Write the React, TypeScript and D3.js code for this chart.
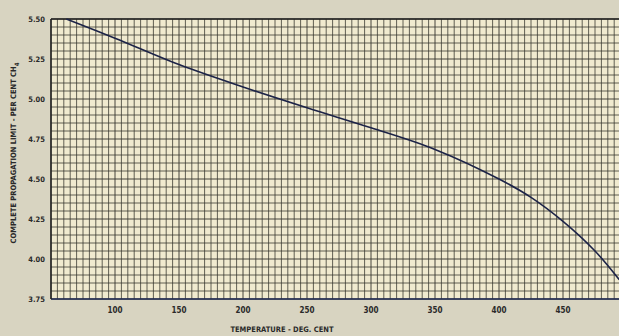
import React, { useEffect, useRef } from 'react';
import * as d3 from 'd3';

// curve
const temps = [62, 100, 150, 200, 250, 300, 350, 400, 425, 450, 475, 494];
const limits = [5.5, 5.38, 5.215, 5.075, 4.945, 4.82, 4.685, 4.5, 4.385, 4.235, 4.05, 3.87];

const xTicks = [100, 150, 200, 250, 300, 350, 400, 450];
const yTicks = [3.75, 4.0, 4.25, 4.5, 4.75, 5.0, 5.25, 5.5];

const W = 619;
const H = 336;

const App = () => {
  const ref = useRef<SVGSVGElement | null>(null);

  useEffect(() => {
    const svg = d3.select(ref.current);
    svg.selectAll('*').remove();

    const left = 51, top = 19, bottom = 299;
    const x = d3.scaleLinear().domain([50, 500]).range([left, left + 450 * 1.28]);
    const y = d3.scaleLinear().domain([3.75, 5.5]).range([bottom, top]);
    const font = '"DejaVu Sans Condensed", "Liberation Sans", sans-serif';

    svg.append('rect').attr('width', W).attr('height', H).attr('fill', '#d8d4c1');
    svg.append('rect')
      .attr('x', left).attr('y', top)
      .attr('width', W - left).attr('height', bottom - top)
      .attr('fill', '#f0eacf');

    // graph paper
    const grid = svg.append('g').attr('stroke', '#34332c').attr('stroke-width', 0.95);
    d3.range(50, 501, 5).forEach(t => {
      grid.append('line')
        .attr('x1', x(t)).attr('x2', x(t))
        .attr('y1', top).attr('y2', bottom)
        .attr('stroke-opacity', t % 50 === 0 ? 0.95 : 0.8);
    });
    d3.range(0, 36).forEach(i => {
      const v = 3.75 + i * 0.05;
      grid.append('line')
        .attr('x1', left).attr('x2', W)
        .attr('y1', y(v)).attr('y2', y(v))
        .attr('stroke-opacity', i % 5 === 0 ? 0.95 : 0.8);
    });

    // frame
    svg.append('line').attr('x1', left).attr('x2', W).attr('y1', top).attr('y2', top)
      .attr('stroke', '#222').attr('stroke-width', 1.5);
    svg.append('line').attr('x1', left).attr('x2', W).attr('y1', bottom).attr('y2', bottom)
      .attr('stroke', '#1f2a55').attr('stroke-width', 1.6);
    svg.append('line').attr('x1', left).attr('x2', left).attr('y1', top).attr('y2', bottom)
      .attr('stroke', '#222').attr('stroke-width', 1.5);

    // curve
    const line = d3.line<number>()
      .x((d, i) => x(temps[i]))
      .y(d => y(d))
      .curve(d3.curveCatmullRom.alpha(0.5));
    svg.append('path')
      .datum(limits)
      .attr('fill', 'none')
      .attr('stroke', '#1c2347')
      .attr('stroke-width', 1.6)
      .attr('d', line);

    // tick labels
    svg.append('g').selectAll('text')
      .data(xTicks)
      .enter().append('text')
      .attr('x', d => x(d))
      .attr('y', 313)
      .attr('text-anchor', 'middle')
      .attr('font-family', font)
      .attr('font-weight', 'bold')
      .attr('font-size', 8)
      .attr('fill', '#2a2a2a')
      .text(d => d);

    svg.append('g').selectAll('text')
      .data(yTicks)
      .enter().append('text')
      .attr('x', 45)
      .attr('y', d => y(d) + 3)
      .attr('text-anchor', 'end')
      .attr('font-family', font)
      .attr('font-weight', 'bold')
      .attr('font-size', 7.5)
      .attr('fill', '#2a2a2a')
      .text(d => d.toFixed(2));

    // axis titles
    svg.append('text')
      .attr('x', 282).attr('y', 332)
      .attr('text-anchor', 'middle')
      .attr('font-family', font)
      .attr('font-weight', 'bold')
      .attr('font-size', 7.5)
      .attr('fill', '#2a2a2a')
      .text('TEMPERATURE - DEG. CENT');

    const yt = svg.append('text')
      .attr('transform', 'translate(16,153) rotate(-90)')
      .attr('text-anchor', 'middle')
      .attr('font-family', font)
      .attr('font-weight', 'bold')
      .attr('font-size', 7.5)
      .attr('fill', '#2a2a2a');
    yt.append('tspan').text('COMPLETE PROPAGATION LIMIT - PER CENT CH');
    yt.append('tspan').attr('dy', 2.5).attr('font-size', 6).text('4');
  }, []);

  return (
    <div style={{ position: 'absolute', left: 0, top: 0 }}>
      <svg ref={ref} width={W} height={H} style={{ display: 'block' }} />
    </div>
  );
};

export default App;
